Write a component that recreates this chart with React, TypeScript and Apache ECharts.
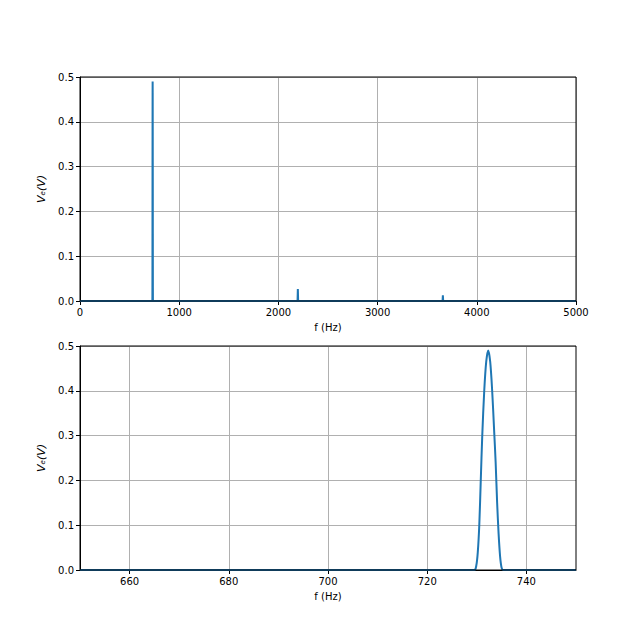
import React, { useEffect, useRef } from 'react';
import * as echarts from 'echarts';

// Zoomed peak (bottom panel)
const peakFreq = [650, 729.5, 729.9, 730.2, 730.5, 730.8, 731.1, 731.5, 731.9, 732.3, 732.7, 733.1, 733.5, 733.8, 734.1, 734.4, 734.7, 735.0, 735.3, 750];
const peakVolt = [0, 0, 0.01, 0.04, 0.1, 0.2, 0.3, 0.4, 0.465, 0.49, 0.465, 0.4, 0.31, 0.24, 0.15, 0.08, 0.03, 0.005, 0, 0];
// Harmonics (top panel)
const harmonicFreq = [2193, 2196, 2199, 3655, 3658, 3661];
const harmonicVolt = [0, 0.027, 0, 0, 0.0125, 0];
const spectrumStart = [0, 0];
const spectrumEnd = [5000, 0];

const topXTicks = [0, 1000, 2000, 3000, 4000, 5000];
const bottomXTicks = [660, 680, 700, 720, 740];
const yTickStep = 0.1;

const FONT = 'DejaVu Sans';
const LINE_COLOR = '#1f77b4';

export default function App() {
  const ref = useRef<HTMLDivElement>(null);
  useEffect(() => {
    if (!ref.current) return;
    const chart = echarts.init(ref.current, null, { renderer: 'svg' });

    const peakData = peakFreq.map((f, i) => [f, peakVolt[i]]);
    const harmData = harmonicFreq.map((f, i) => [harmonicFreq[i], harmonicVolt[i]]);
    const topData = [spectrumStart, ...peakData, ...harmData, spectrumEnd];

    const grids = [
      { left: 80, top: 77, width: 496, height: 224 },
      { left: 80, top: 346, width: 496, height: 224 },
    ];

    const common = {
      axisLine: { show: true, onZero: false, lineStyle: { color: '#000', width: 1 } },
      axisTick: { show: true, length: 4, lineStyle: { color: '#000', width: 1 } },
      splitLine: { show: true, lineStyle: { color: '#b0b0b0', width: 1 } },
      nameTextStyle: { color: '#000', fontSize: 10, fontFamily: FONT },
    };
    const labelStyle = { color: '#000', fontSize: 10, fontFamily: FONT, margin: 6 };

    const yAxis = (gi: number) => ({
      ...common,
      type: 'value',
      gridIndex: gi,
      min: 0,
      max: 0.5,
      interval: yTickStep,
      name: 'Vₑ(V)',
      nameLocation: 'middle',
      nameGap: 32,
      nameRotate: 90,
      nameTextStyle: { ...common.nameTextStyle, fontStyle: 'italic', fontSize: 11 },
      axisLabel: { ...labelStyle, formatter: (v: number) => v.toFixed(1) },
    });

    const option: any = {
      animation: false,
      backgroundColor: '#fff',
      grid: grids.map((g) => ({ ...g, containLabel: false })),
      xAxis: [
        {
          ...common,
          type: 'value',
          gridIndex: 0,
          min: topXTicks[0],
          max: topXTicks[topXTicks.length - 1],
          interval: topXTicks[1] - topXTicks[0],
          name: 'f (Hz)',
          nameLocation: 'middle',
          nameGap: 21,
          axisLabel: { ...labelStyle, formatter: (v: number) => String(v) },
        },
        {
          ...common,
          type: 'value',
          gridIndex: 1,
          min: 650,
          max: 750,
          name: 'f (Hz)',
          nameLocation: 'middle',
          nameGap: 21,
          axisTick: { ...common.axisTick, customValues: bottomXTicks },
          axisLabel: { ...labelStyle, customValues: bottomXTicks, formatter: (v: number) => String(v) },
        },
      ],
      yAxis: [yAxis(0), yAxis(1)],
      series: [
        {
          type: 'line',
          xAxisIndex: 0,
          yAxisIndex: 0,
          data: topData,
          showSymbol: false,
          symbol: 'none',
          lineStyle: { color: LINE_COLOR, width: 2 },
          clip: true,
          z: 5,
        },
        {
          type: 'line',
          xAxisIndex: 1,
          yAxisIndex: 1,
          data: peakData,
          showSymbol: false,
          symbol: 'none',
          smooth: 0.3,
          lineStyle: { color: LINE_COLOR, width: 2 },
          clip: true,
          z: 5,
        },
      ],
      graphic: grids.map((g) => ({
        type: 'rect',
        z: 100,
        silent: true,
        shape: { x: g.left, y: g.top, width: g.width, height: g.height },
        style: { fill: 'none', stroke: '#000', lineWidth: 1 },
      })),
    };
    chart.setOption(option);
    return () => chart.dispose();
  }, []);
  return (
    <div
      ref={ref}
      style={{ position: 'fixed', left: 0, top: 0, width: 640, height: 640 }}
    />
  );
}
